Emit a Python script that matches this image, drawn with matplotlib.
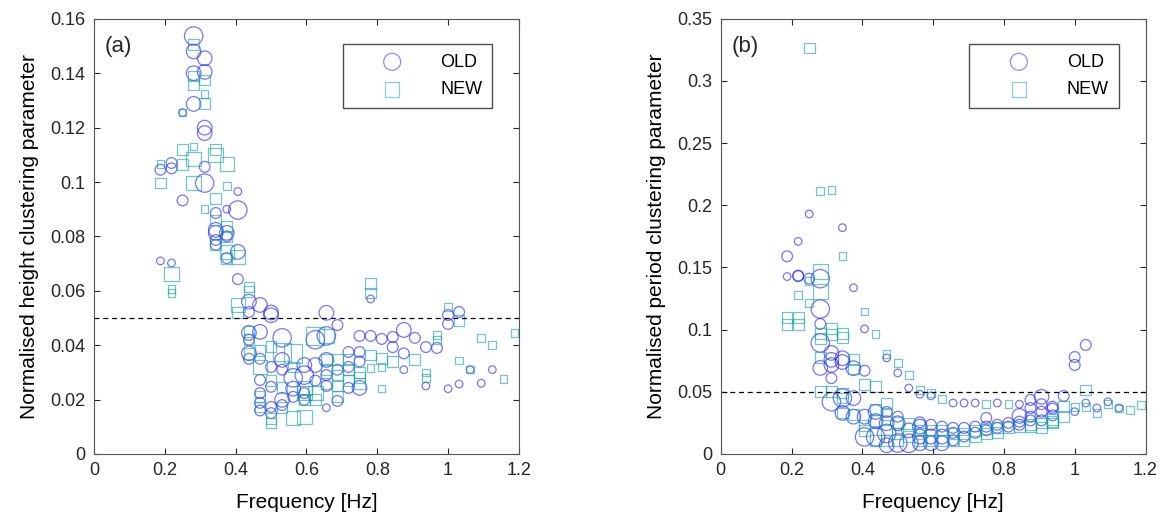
import numpy as np
import matplotlib
matplotlib.use('Agg')
import matplotlib.pyplot as plt
from matplotlib.ticker import FuncFormatter

plt.rcParams['font.family'] = ['Liberation Sans', 'DejaVu Sans']

# frequency bins are 1/32 Hz wide; each point is (bin, value, size code)
bin_width = 1 / 32

# panel (a): normalised height clustering parameter
a_old = [
    (9, .1537, 4), (9, .148, 3), (10, .1455, 3), (9, .140, 3), (10, .1405, 3), (9, .1287, 3),
    (8, .1255, 1), (10, .120, 3), (10, .118, 3), (7, .107, 2), (7, .105, 2), (6, .1045, 2),
    (10, .1056, 2), (10, .0996, 4), (13, .0965, 1), (8, .0932, 2), (12, .090, 1), (13, .0897, 4),
    (11, .0886, 2), (11, .0824, 3), (11, .0813, 3), (12, .0813, 3), (12, .080, 2), (11, .0787, 2),
    (11, .0769, 2), (13, .0743, 3), (12, .072, 2), (6, .071, 1), (7, .0702, 1), (13, .0643, 2),
    (14, .056, 3), (14, .0522, 2), (15, .0548, 3), (16, .052, 3), (16, .051, 3), (21, .0519, 3),
    (22, .0474, 2), (25, .057, 1), (32, .0511, 2), (32, .0478, 2), (33, .0522, 2), (31, .039, 2),
    (34, .031, 1), (36, .031, 1), (35, .026, 1), (33, .0257, 1), (32, .024, 1), (30, .025, 1),
    (24, .0434, 2), (25, .0434, 2), (26, .0423, 2), (27, .043, 2), (28, .0456, 3), (29, .0427, 2),
    (30, .0393, 2), (27, .0393, 2), (28, .037, 2), (28, .031, 1), (24, .0243, 3), (24, .0375, 2),
    (24, .034, 2), (14, .0445, 3), (14, .042, 2), (14, .037, 3), (14, .035, 2), (15, .0449, 3),
    (15, .035, 2), (15, .0272, 2), (15, .0224, 2), (15, .0188, 2), (15, .016, 2), (16, .0247, 2),
    (16, .0173, 2), (16, .015, 2), (16, .032, 2), (17, .0427, 4), (17, .0346, 3), (17, .031, 2),
    (17, .0199, 3), (17, .018, 2), (18, .028, 4), (18, .024, 3), (18, .021, 2), (19, .0327, 3),
    (19, .029, 4), (19, .0224, 2), (19, .0199, 2), (20, .042, 4), (20, .0327, 3), (20, .027, 2),
    (21, .0434, 4), (21, .0346, 3), (21, .029, 2), (21, .025, 2), (21, .017, 1), (22, .031, 2),
    (22, .0195, 2), (23, .0375, 2), (23, .032, 2), (23, .0243, 2),
]
a_new = [
    (9, .1505, 2), (9, .139, 2), (10, .1375, 2), (9, .1357, 2), (10, .1324, 1), (10, .129, 2),
    (8, .1255, 1), (9, .113, 1), (8, .112, 2), (9, .1085, 3), (11, .110, 3), (11, .112, 2),
    (12, .1066, 3), (6, .1066, 1), (6, .0996, 2), (8, .1063, 2), (9, .0996, 3), (12, .0986, 1),
    (11, .0938, 2), (10, .090, 1), (11, .086, 2), (12, .0835, 2), (12, .080, 2), (11, .077, 2),
    (12, .0743, 3), (13, .0725, 3), (12, .072, 2), (7, .0662, 3), (7, .0607, 1), (7, .0592, 1),
    (14, .0614, 2), (14, .0596, 2), (13, .0548, 3), (13, .052, 2), (25, .0628, 2), (25, .0592, 2),
    (32, .054, 1), (33, .049, 2), (31, .0438, 1), (31, .042, 1), (35, .0427, 1), (36, .040, 1),
    (38, .0445, 1), (33, .0343, 1), (37, .0276, 1), (34, .031, 1), (30, .030, 1), (30, .028, 1),
    (26, .035, 2), (27, .034, 2), (29, .0346, 2), (25, .0316, 1), (26, .024, 1), (26, .032, 1),
    (25, .0364, 2), (24, .030, 2), (24, .028, 2), (24, .026, 2), (14, .0449, 2), (14, .042, 2),
    (14, .037, 2), (15, .032, 3), (15, .021, 2), (15, .0173, 2), (16, .027, 2), (16, .0114, 2),
    (16, .013, 2), (17, .0375, 4), (17, .0243, 2), (17, .017, 2), (18, .037, 4), (18, .032, 2),
    (18, .0132, 3), (19, .0243, 3), (19, .0224, 3), (19, .020, 2), (19, .0136, 3), (20, .0433, 4),
    (20, .0224, 3), (20, .020, 2), (21, .0434, 3), (21, .0346, 2), (21, .031, 2), (21, .026, 2),
    (22, .0346, 2), (22, .029, 2), (22, .025, 2), (22, .021, 2), (23, .0346, 2), (23, .031, 2),
    (23, .027, 2), (16, .0395, 2), (15, .038, 2),
]

# panel (b): normalised period clustering parameter
b_old = [
    (8, .193, 1), (11, .182, 1), (7, .171, 1), (6, .159, 2), (6, .1427, 1), (7, .143, 2),
    (7, .1435, 2), (8, .141, 2), (9, .141, 4), (12, .1337, 1), (9, .1166, 4), (13, .1006, 1),
    (9, .1046, 2), (9, .0893, 4), (10, .0813, 3), (10, .0757, 3), (10, .0716, 3), (11, .077, 3),
    (11, .074, 3), (12, .069, 3), (13, .067, 2), (9, .0692, 3), (15, .0773, 1), (16, .0652, 1),
    (10, .061, 2), (17, .053, 1), (18, .048, 1), (19, .0467, 1), (21, .041, 1), (22, .041, 1),
    (23, .041, 1), (25, .041, 1), (24, .029, 2), (27, .040, 1), (27, .0306, 3), (28, .0435, 2),
    (28, .037, 2), (29, .046, 3), (29, .040, 2), (30, .038, 2), (31, .0467, 2), (32, .078, 2),
    (32, .0716, 2), (33, .0877, 2), (33, .041, 1), (32, .034, 1), (34, .037, 1), (35, .042, 1),
    (36, .037, 1), (10, .042, 4), (11, .045, 4), (11, .033, 3), (12, .045, 3), (12, .030, 3),
    (13, .030, 3), (13, .0137, 4), (14, .0338, 3), (14, .0265, 3), (14, .0137, 4), (15, .0338, 2),
    (15, .0247, 3), (15, .0165, 4), (15, .007, 3), (16, .030, 2), (16, .0247, 3), (16, .0088, 4),
    (17, .019, 3), (17, .0086, 4), (18, .0255, 2), (18, .022, 3), (18, .014, 3), (18, .0086, 3),
    (19, .0235, 2), (19, .014, 3), (19, .0086, 3), (20, .022, 2), (20, .014, 3), (20, .0086, 3),
    (21, .021, 2), (21, .017, 2), (21, .011, 2), (22, .021, 2), (22, .014, 2), (23, .022, 2),
    (23, .017, 2), (24, .022, 2), (24, .019, 2), (25, .0235, 2), (25, .021, 2), (26, .025, 2),
    (26, .022, 2), (27, .026, 2), (27, .0235, 2), (28, .030, 2), (28, .027, 2), (29, .034, 2),
    (29, .027, 2), (30, .0365, 2), (30, .031, 2),
]
b_new = [
    (8, .3266, 2), (9, .2117, 1), (10, .2125, 1), (11, .159, 1), (8, .139, 1), (9, .1466, 3),
    (9, .1307, 3), (7, .128, 1), (8, .1214, 1), (6, .110, 2), (6, .104, 2), (7, .110, 2),
    (7, .104, 2), (13, .1145, 1), (14, .0966, 1), (10, .101, 2), (10, .0958, 2), (11, .0966, 2),
    (11, .0934, 2), (9, .0966, 2), (9, .0926, 2), (9, .0773, 2), (12, .076, 2), (12, .0684, 2),
    (15, .0805, 1), (16, .0733, 1), (17, .0636, 1), (13, .0556, 2), (14, .054, 2), (18, .0515, 1),
    (19, .0488, 1), (20, .0442, 1), (24, .0403, 1), (26, .0403, 1), (31, .038, 2), (33, .0515, 2),
    (33, .038, 1), (32, .038, 1), (34, .033, 1), (35, .040, 1), (36, .0365, 1), (37, .0354, 1),
    (38, .0394, 1), (10, .050, 2), (9, .050, 2), (11, .045, 2), (29, .025, 2), (30, .026, 2),
    (11, .049, 2), (11, .033, 2), (12, .032, 2), (13, .019, 2), (13, .023, 2), (14, .036, 2),
    (14, .027, 2), (14, .011, 2), (15, .041, 2), (15, .032, 2), (15, .0193, 2), (15, .011, 2),
    (16, .0255, 2), (16, .0165, 2), (16, .011, 2), (17, .0247, 2), (17, .014, 2), (18, .0193, 2),
    (18, .0165, 2), (18, .011, 2), (19, .0193, 2), (19, .011, 2), (20, .0193, 2), (20, .011, 2),
    (21, .0165, 2), (21, .011, 2), (22, .0165, 2), (22, .011, 2), (23, .019, 2), (23, .014, 2),
    (24, .020, 2), (24, .0165, 2), (25, .021, 2), (25, .017, 2), (26, .021, 2), (27, .022, 2),
    (28, .0235, 2), (28, .022, 2), (29, .021, 2), (30, .0275, 2), (30, .025, 2), (31, .030, 2),
]

threshold = 0.05
size_map = {1: 30, 2: 60, 3: 110, 4: 175}
old_color = '#1a1aff'
new_color = '#14a0a0'


def draw(ax, old, new):
    for pts, marker, color, label in [(old, 'o', old_color, 'OLD'), (new, 's', new_color, 'NEW')]:
        arr = np.array(pts)
        ax.scatter(arr[:, 0] * bin_width, arr[:, 1], s=[size_map[int(c)] for c in arr[:, 2]],
                   marker=marker, facecolors='none', edgecolors=color, linewidths=0.9,
                   alpha=0.6, label=label)
    ax.axhline(threshold, color='black', ls=(0, (4, 3)), lw=0.9)
    ax.set_xlim(0, 1.2)
    ax.set_xticks(np.arange(0, 1.21, 0.2))
    fmt = FuncFormatter(lambda v, p: '%g' % round(v, 4))
    ax.xaxis.set_major_formatter(fmt)
    ax.yaxis.set_major_formatter(fmt)
    ax.tick_params(direction='in', top=True, right=True, labelsize=13, length=4,
                   pad=6, colors='#262626')
    for sp in ax.spines.values():
        sp.set_color('#555555')
    ax.set_xlabel('Frequency [Hz]', fontsize=15, labelpad=10)
    leg = ax.legend(loc='upper right', bbox_to_anchor=(0.937, 0.943), borderaxespad=0,
                    fancybox=False, edgecolor='#222222', fontsize=13, handlelength=4.4,
                    handletextpad=0.45, borderpad=0.55, labelspacing=0.6, scatterpoints=1)
    leg.get_frame().set_linewidth(1.0)
    leg.legend_handles[0].set_sizes([150])
    leg.legend_handles[1].set_sizes([110])
    for h in leg.legend_handles:
        h.set_alpha(0.5)


fig = plt.figure(figsize=(11.67, 5.23), dpi=100)
ax1 = fig.add_axes([0.0806, 0.132, 0.364, 0.832])
ax2 = fig.add_axes([0.6176, 0.132, 0.364, 0.832])

draw(ax1, a_old, a_new)
ax1.set_ylim(0, 0.16)
ax1.set_yticks(np.arange(0, 0.161, 0.02))
ax1.set_ylabel('Normalised height clustering parameter', fontsize=15, labelpad=8)
ax1.text(0.025, 0.96, '(a)', transform=ax1.transAxes, fontsize=16, va='top', color='#262626')

draw(ax2, b_old, b_new)
ax2.set_ylim(0, 0.35)
ax2.set_yticks(np.arange(0, 0.351, 0.05))
ax2.set_ylabel('Normalised period clustering parameter', fontsize=15, labelpad=8)
ax2.text(0.025, 0.96, '(b)', transform=ax2.transAxes, fontsize=16, va='top', color='#262626')

fig.savefig('out.png', dpi=100)
